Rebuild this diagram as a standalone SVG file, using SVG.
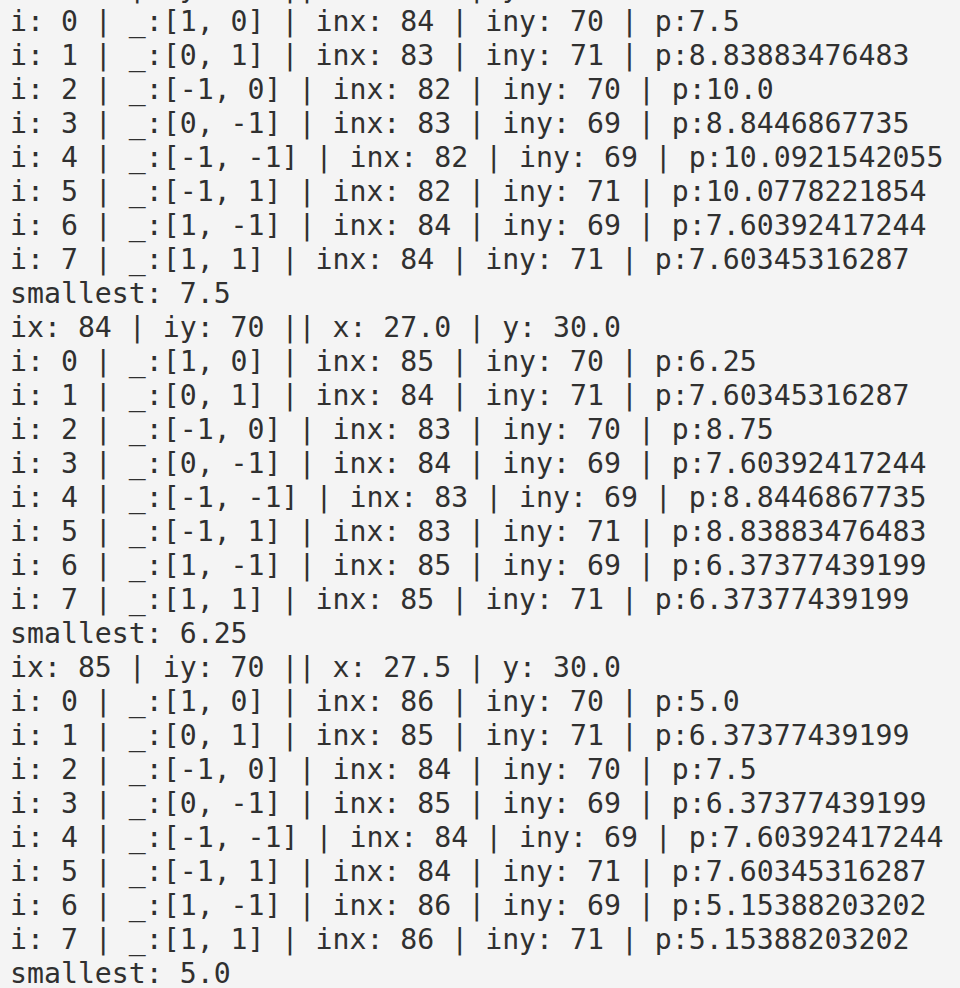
<svg xmlns="http://www.w3.org/2000/svg" width="960" height="988" viewBox="0 0 960 988">
<style>
.t{font-family:"DejaVu Sans Mono","Liberation Mono",monospace;font-size:28.2px;fill:#303030;}
</style>
<rect x="0" y="0" width="960" height="988" fill="#f4f4f4"/>
<g class="t">
<text x="10" y="-3.5">ix: 83 | iy: 70 || x: 26.5 | y: 30.0</text>
<text x="10" y="30.5">i: 0 | _:[1, 0] | inx: 84 | iny: 70 | p:7.5</text>
<text x="10" y="64.5">i: 1 | _:[0, 1] | inx: 83 | iny: 71 | p:8.83883476483</text>
<text x="10" y="98.5">i: 2 | _:[-1, 0] | inx: 82 | iny: 70 | p:10.0</text>
<text x="10" y="132.5">i: 3 | _:[0, -1] | inx: 83 | iny: 69 | p:8.8446867735</text>
<text x="10" y="166.5">i: 4 | _:[-1, -1] | inx: 82 | iny: 69 | p:10.0921542055</text>
<text x="10" y="200.5">i: 5 | _:[-1, 1] | inx: 82 | iny: 71 | p:10.0778221854</text>
<text x="10" y="234.5">i: 6 | _:[1, -1] | inx: 84 | iny: 69 | p:7.60392417244</text>
<text x="10" y="268.5">i: 7 | _:[1, 1] | inx: 84 | iny: 71 | p:7.60345316287</text>
<text x="10" y="302.5">smallest: 7.5</text>
<text x="10" y="336.5">ix: 84 | iy: 70 || x: 27.0 | y: 30.0</text>
<text x="10" y="370.5">i: 0 | _:[1, 0] | inx: 85 | iny: 70 | p:6.25</text>
<text x="10" y="404.5">i: 1 | _:[0, 1] | inx: 84 | iny: 71 | p:7.60345316287</text>
<text x="10" y="438.5">i: 2 | _:[-1, 0] | inx: 83 | iny: 70 | p:8.75</text>
<text x="10" y="472.5">i: 3 | _:[0, -1] | inx: 84 | iny: 69 | p:7.60392417244</text>
<text x="10" y="506.5">i: 4 | _:[-1, -1] | inx: 83 | iny: 69 | p:8.8446867735</text>
<text x="10" y="540.5">i: 5 | _:[-1, 1] | inx: 83 | iny: 71 | p:8.83883476483</text>
<text x="10" y="574.5">i: 6 | _:[1, -1] | inx: 85 | iny: 69 | p:6.37377439199</text>
<text x="10" y="608.5">i: 7 | _:[1, 1] | inx: 85 | iny: 71 | p:6.37377439199</text>
<text x="10" y="642.5">smallest: 6.25</text>
<text x="10" y="676.5">ix: 85 | iy: 70 || x: 27.5 | y: 30.0</text>
<text x="10" y="710.5">i: 0 | _:[1, 0] | inx: 86 | iny: 70 | p:5.0</text>
<text x="10" y="744.5">i: 1 | _:[0, 1] | inx: 85 | iny: 71 | p:6.37377439199</text>
<text x="10" y="778.5">i: 2 | _:[-1, 0] | inx: 84 | iny: 70 | p:7.5</text>
<text x="10" y="812.5">i: 3 | _:[0, -1] | inx: 85 | iny: 69 | p:6.37377439199</text>
<text x="10" y="846.5">i: 4 | _:[-1, -1] | inx: 84 | iny: 69 | p:7.60392417244</text>
<text x="10" y="880.5">i: 5 | _:[-1, 1] | inx: 84 | iny: 71 | p:7.60345316287</text>
<text x="10" y="914.5">i: 6 | _:[1, -1] | inx: 86 | iny: 69 | p:5.15388203202</text>
<text x="10" y="948.5">i: 7 | _:[1, 1] | inx: 86 | iny: 71 | p:5.15388203202</text>
<text x="10" y="982.5">smallest: 5.0</text>
</g>
</svg>
